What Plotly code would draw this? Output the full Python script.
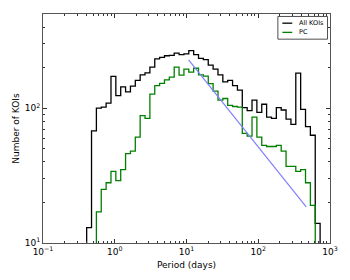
import numpy as np
import plotly.graph_objects as go

# ---- data ----
period_min = 0.406      # days, left edge of first bin
period_max = 728.0      # days, right edge of last bin
n_bins = 48

all_kois = [13, 68, 100, 102, 109, 172, 124, 144, 132, 146, 161, 177,
            183, 202, 232, 238, 245, 247, 256, 250, 253, 267, 250, 234,
            229, 209, 195, 177, 157, 161, 147, 136, 101, 96, 115, 93,
            107, 86, 84, 101, 97, 83, 76, 182, 98, 73, 63, 14]

pc = [0, 0, 17, 25, 28, 34, 29, 35, 46, 48, 61, 88,
      84, 127, 147, 153, 162, 170, 202, 176, 195, 185, 198, 177,
      173, 152, 134, 115, 118, 105, 103, 102, 65, 62, 86, 61,
      53, 52, 52, 53, 48, 37, 37, 34, 35, 28, 19, 0]

fit_period = [10.7, 466.0]
fit_count = [228.0, 18.5]

series_names = ["All KOIs", "PC"]
series_colors = ["black", "#008000"]

x_tick_vals = [0.1, 1, 10, 100, 1000]
x_tick_text = ["10<sup>\u22121</sup>", "10<sup>0</sup>", "10<sup>1</sup>",
               "10<sup>2</sup>", "10<sup>3</sup>"]
y_tick_vals = [10, 100]
y_tick_text = ["10<sup>1</sup>", "10<sup>2</sup>"]

# ---- build step outlines ----
edges = np.logspace(np.log10(period_min), np.log10(period_max), n_bins + 1)


def step_xy(edges, counts, floor=1.0):
    idx = [i for i, c in enumerate(counts) if c > 0]
    a, b = idx[0], idx[-1]
    xs, ys = [edges[a]], [floor]
    for i in range(a, b + 1):
        xs.append(edges[i])
        ys.append(counts[i] if counts[i] > 0 else floor)
    xs.append(edges[b + 1])
    ys.append(floor)
    return xs, ys


fig = go.Figure()
for counts, name, color in zip([all_kois, pc], series_names, series_colors):
    sx, sy = step_xy(edges, counts)
    fig.add_trace(go.Scatter(x=sx, y=sy, mode="lines", line_shape="hv",
                             line=dict(color=color, width=1.3), name=name,
                             showlegend=False))
fig.add_trace(go.Scatter(x=fit_period, y=fit_count, mode="lines",
                         line=dict(color="#8080ff", width=1.2), showlegend=False))

x_minor = [m * 10.0 ** d for d in range(-1, 3) for m in range(2, 10)]
y_minor = [m * 10.0 ** d for d in range(1, 3) for m in range(2, 10) if m * 10.0 ** d <= 500]

axis_common = dict(
    showline=True, linecolor="#555555", linewidth=1, mirror="allticks",
    ticks="inside", ticklen=4, tickwidth=1, tickcolor="#333333",
    showgrid=False, zeroline=False,
    tickfont=dict(family="DejaVu Sans", size=9, color="black"),
    title_font=dict(family="DejaVu Sans", size=9, color="black"),
)

# ---- small legend box drawn in paper coordinates (top-right) ----
L, R, T, B = 43, 18, 14, 34
pw, ph = 350 - L - R, 280 - T - B


def px(x):
    return (x - L) / pw


def py(y):
    return (280 - B - y) / ph


shapes = [dict(type="rect", xref="paper", yref="paper",
               x0=px(279.5), x1=px(329.5), y0=py(39.5), y1=py(16.5),
               line=dict(color="#222222", width=0.8), fillcolor="white", layer="above")]
annotations = []
for k, (name, color) in enumerate(zip(series_names, series_colors)):
    yy = 23.3 + 9.3 * k
    shapes.append(dict(type="line", xref="paper", yref="paper",
                       x0=px(284), x1=px(294), y0=py(yy), y1=py(yy),
                       line=dict(color=color, width=1.3), layer="above"))
    annotations.append(dict(xref="paper", yref="paper", x=px(299), y=py(yy),
                            text=name, showarrow=False, xanchor="left", yanchor="middle",
                            font=dict(family="DejaVu Sans", size=6.5, color="black")))

fig.update_layout(
    width=350, height=280,
    margin=dict(l=L, r=R, t=T, b=B),
    paper_bgcolor="white", plot_bgcolor="white",
    font=dict(family="DejaVu Sans", size=9, color="black"),
    xaxis=dict(type="log", range=[-1, 3], tickmode="array",
               tickvals=x_tick_vals, ticktext=x_tick_text,
               title=dict(text="Period (days)", standoff=5),
               minor=dict(tickmode="array", tickvals=x_minor, ticks="inside",
                          ticklen=2, tickcolor="#333333", showgrid=False),
               **axis_common),
    yaxis=dict(type="log", range=[1, np.log10(500)], tickmode="array",
               tickvals=y_tick_vals, ticktext=y_tick_text,
               title=dict(text="Number of KOIs", standoff=3),
               minor=dict(tickmode="array", tickvals=y_minor, ticks="inside",
                          ticklen=2, tickcolor="#333333", showgrid=False),
               **axis_common),
    shapes=shapes,
    annotations=annotations,
    showlegend=False,
)

fig.write_html("out.html", config={"displayModeBar": False},
               post_script="document.body.style.margin='0';")
